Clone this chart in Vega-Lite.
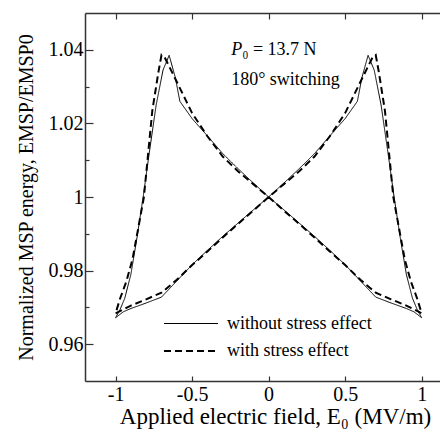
{
  "$schema": "https://vega.github.io/schema/vega-lite/v6.json",
  "width": 355,
  "height": 368,
  "autosize": {"type": "none"},
  "padding": {"left": 85, "top": 13, "right": 0, "bottom": 53},
  "background": "white",
  "config": {
    "font": "Liberation Serif",
    "view": {"stroke": null},
    "axis": {
      "domainColor": "#333", "domainWidth": 1.5, "tickColor": "#333", "tickWidth": 1.2,
      "labelFont": "Liberation Serif", "titleFont": "Liberation Serif",
      "labelColor": "black", "titleColor": "black", "titleFontWeight": "normal",
      "grid": false, "labelFontSize": 20, "titleFontSize": 20
    },
    "legend": {"labelFont": "Liberation Serif", "labelColor": "black"},
    "text": {"font": "Liberation Serif"}
  },
  "layer": [
    {
      "data": {"values": [
        {"series": "without stress effect", "o": 1, "x": -1.0, "y": 0.9672},
        {"series": "without stress effect", "o": 2, "x": -0.95, "y": 0.9688},
        {"series": "without stress effect", "o": 3, "x": -0.9, "y": 0.9697},
        {"series": "without stress effect", "o": 4, "x": -0.8, "y": 0.9712},
        {"series": "without stress effect", "o": 5, "x": -0.7, "y": 0.9728},
        {"series": "without stress effect", "o": 6, "x": -0.6, "y": 0.9772},
        {"series": "without stress effect", "o": 7, "x": -0.5, "y": 0.9816},
        {"series": "without stress effect", "o": 8, "x": -0.4, "y": 0.9855},
        {"series": "without stress effect", "o": 9, "x": -0.3, "y": 0.9893},
        {"series": "without stress effect", "o": 10, "x": -0.2, "y": 0.9929},
        {"series": "without stress effect", "o": 11, "x": -0.1, "y": 0.9965},
        {"series": "without stress effect", "o": 12, "x": 0.0, "y": 1.0},
        {"series": "without stress effect", "o": 13, "x": 0.1, "y": 1.0038},
        {"series": "without stress effect", "o": 14, "x": 0.2, "y": 1.0077},
        {"series": "without stress effect", "o": 15, "x": 0.3, "y": 1.0118},
        {"series": "without stress effect", "o": 16, "x": 0.4, "y": 1.0166},
        {"series": "without stress effect", "o": 17, "x": 0.5, "y": 1.0213},
        {"series": "without stress effect", "o": 18, "x": 0.58, "y": 1.026},
        {"series": "without stress effect", "o": 19, "x": 0.61, "y": 1.0325},
        {"series": "without stress effect", "o": 20, "x": 0.65, "y": 1.0385},
        {"series": "without stress effect", "o": 21, "x": 0.69, "y": 1.0345},
        {"series": "without stress effect", "o": 22, "x": 0.735, "y": 1.025},
        {"series": "without stress effect", "o": 23, "x": 0.78, "y": 1.012},
        {"series": "without stress effect", "o": 24, "x": 0.82, "y": 1.0},
        {"series": "without stress effect", "o": 25, "x": 0.86, "y": 0.989},
        {"series": "without stress effect", "o": 26, "x": 0.9, "y": 0.979},
        {"series": "without stress effect", "o": 27, "x": 0.94, "y": 0.9725},
        {"series": "without stress effect", "o": 28, "x": 0.97, "y": 0.9695},
        {"series": "without stress effect", "o": 29, "x": 1.0, "y": 0.9672},
        {"series": "without stress effect", "o": 30, "x": 0.95, "y": 0.9688},
        {"series": "without stress effect", "o": 31, "x": 0.9, "y": 0.9697},
        {"series": "without stress effect", "o": 32, "x": 0.8, "y": 0.9712},
        {"series": "without stress effect", "o": 33, "x": 0.7, "y": 0.9728},
        {"series": "without stress effect", "o": 34, "x": 0.6, "y": 0.9772},
        {"series": "without stress effect", "o": 35, "x": 0.5, "y": 0.9816},
        {"series": "without stress effect", "o": 36, "x": 0.4, "y": 0.9855},
        {"series": "without stress effect", "o": 37, "x": 0.3, "y": 0.9893},
        {"series": "without stress effect", "o": 38, "x": 0.2, "y": 0.9929},
        {"series": "without stress effect", "o": 39, "x": 0.1, "y": 0.9965},
        {"series": "without stress effect", "o": 40, "x": 0.0, "y": 1.0},
        {"series": "without stress effect", "o": 41, "x": -0.1, "y": 1.0038},
        {"series": "without stress effect", "o": 42, "x": -0.2, "y": 1.0077},
        {"series": "without stress effect", "o": 43, "x": -0.3, "y": 1.0118},
        {"series": "without stress effect", "o": 44, "x": -0.4, "y": 1.0166},
        {"series": "without stress effect", "o": 45, "x": -0.5, "y": 1.0213},
        {"series": "without stress effect", "o": 46, "x": -0.58, "y": 1.026},
        {"series": "without stress effect", "o": 47, "x": -0.61, "y": 1.0325},
        {"series": "without stress effect", "o": 48, "x": -0.65, "y": 1.0385},
        {"series": "without stress effect", "o": 49, "x": -0.69, "y": 1.0345},
        {"series": "without stress effect", "o": 50, "x": -0.735, "y": 1.025},
        {"series": "without stress effect", "o": 51, "x": -0.78, "y": 1.012},
        {"series": "without stress effect", "o": 52, "x": -0.82, "y": 1.0},
        {"series": "without stress effect", "o": 53, "x": -0.86, "y": 0.989},
        {"series": "without stress effect", "o": 54, "x": -0.9, "y": 0.979},
        {"series": "without stress effect", "o": 55, "x": -0.94, "y": 0.9725},
        {"series": "without stress effect", "o": 56, "x": -0.97, "y": 0.9695},
        {"series": "without stress effect", "o": 57, "x": -1.0, "y": 0.9672},
        {"series": "with stress effect", "o": 1, "x": -1.0, "y": 0.9684},
        {"series": "with stress effect", "o": 2, "x": -0.9, "y": 0.9705},
        {"series": "with stress effect", "o": 3, "x": -0.8, "y": 0.9722},
        {"series": "with stress effect", "o": 4, "x": -0.7, "y": 0.974},
        {"series": "with stress effect", "o": 5, "x": -0.6, "y": 0.9775},
        {"series": "with stress effect", "o": 6, "x": -0.5, "y": 0.9815},
        {"series": "with stress effect", "o": 7, "x": -0.4, "y": 0.9852},
        {"series": "with stress effect", "o": 8, "x": -0.3, "y": 0.989},
        {"series": "with stress effect", "o": 9, "x": -0.2, "y": 0.9927},
        {"series": "with stress effect", "o": 10, "x": -0.1, "y": 0.9963},
        {"series": "with stress effect", "o": 11, "x": 0.0, "y": 1.0},
        {"series": "with stress effect", "o": 12, "x": 0.1, "y": 1.0035},
        {"series": "with stress effect", "o": 13, "x": 0.2, "y": 1.007},
        {"series": "with stress effect", "o": 14, "x": 0.3, "y": 1.011},
        {"series": "with stress effect", "o": 15, "x": 0.4, "y": 1.0165},
        {"series": "with stress effect", "o": 16, "x": 0.5, "y": 1.0228},
        {"series": "with stress effect", "o": 17, "x": 0.54, "y": 1.0262},
        {"series": "with stress effect", "o": 18, "x": 0.625, "y": 1.0334},
        {"series": "with stress effect", "o": 19, "x": 0.68, "y": 1.038},
        {"series": "with stress effect", "o": 20, "x": 0.70, "y": 1.0386},
        {"series": "with stress effect", "o": 21, "x": 0.72, "y": 1.034},
        {"series": "with stress effect", "o": 22, "x": 0.76, "y": 1.0235},
        {"series": "with stress effect", "o": 23, "x": 0.815, "y": 1.0},
        {"series": "with stress effect", "o": 24, "x": 0.85, "y": 0.992},
        {"series": "with stress effect", "o": 25, "x": 0.89, "y": 0.983},
        {"series": "with stress effect", "o": 26, "x": 0.93, "y": 0.977},
        {"series": "with stress effect", "o": 27, "x": 0.97, "y": 0.9725},
        {"series": "with stress effect", "o": 28, "x": 1.0, "y": 0.9684},
        {"series": "with stress effect", "o": 29, "x": 0.9, "y": 0.9705},
        {"series": "with stress effect", "o": 30, "x": 0.8, "y": 0.9722},
        {"series": "with stress effect", "o": 31, "x": 0.7, "y": 0.974},
        {"series": "with stress effect", "o": 32, "x": 0.6, "y": 0.9775},
        {"series": "with stress effect", "o": 33, "x": 0.5, "y": 0.9815},
        {"series": "with stress effect", "o": 34, "x": 0.4, "y": 0.9852},
        {"series": "with stress effect", "o": 35, "x": 0.3, "y": 0.989},
        {"series": "with stress effect", "o": 36, "x": 0.2, "y": 0.9927},
        {"series": "with stress effect", "o": 37, "x": 0.1, "y": 0.9963},
        {"series": "with stress effect", "o": 38, "x": 0.0, "y": 1.0},
        {"series": "with stress effect", "o": 39, "x": -0.1, "y": 1.0035},
        {"series": "with stress effect", "o": 40, "x": -0.2, "y": 1.007},
        {"series": "with stress effect", "o": 41, "x": -0.3, "y": 1.011},
        {"series": "with stress effect", "o": 42, "x": -0.4, "y": 1.0165},
        {"series": "with stress effect", "o": 43, "x": -0.5, "y": 1.0228},
        {"series": "with stress effect", "o": 44, "x": -0.54, "y": 1.0262},
        {"series": "with stress effect", "o": 45, "x": -0.625, "y": 1.0334},
        {"series": "with stress effect", "o": 46, "x": -0.68, "y": 1.038},
        {"series": "with stress effect", "o": 47, "x": -0.70, "y": 1.0386},
        {"series": "with stress effect", "o": 48, "x": -0.72, "y": 1.034},
        {"series": "with stress effect", "o": 49, "x": -0.76, "y": 1.0235},
        {"series": "with stress effect", "o": 50, "x": -0.815, "y": 1.0},
        {"series": "with stress effect", "o": 51, "x": -0.85, "y": 0.992},
        {"series": "with stress effect", "o": 52, "x": -0.89, "y": 0.983},
        {"series": "with stress effect", "o": 53, "x": -0.93, "y": 0.977},
        {"series": "with stress effect", "o": 54, "x": -0.97, "y": 0.9725},
        {"series": "with stress effect", "o": 55, "x": -1.0, "y": 0.9684}
      ]},
      "mark": {"type": "line", "color": "black", "clip": true},
      "encoding": {
        "x": {"field": "x", "type": "quantitative",
          "scale": {"domain": [-1.2, 1.12], "nice": false, "zero": false},
          "axis": {"orient": "bottom", "values": [-1, -0.5, 0, 0.5, 1], "tickSize": -5, "labelPadding": 8,
            "labelFont": "Liberation Serif", "titleFont": "Liberation Serif", "titleFontSize": 23, "titleX": 190,
            "labelExpr": "toString(datum.value)", "title": "Applied electric field,  E₀ (MV/m)", "titlePadding": 1}},
        "y": {"field": "y", "type": "quantitative",
          "scale": {"domain": [0.95, 1.05], "nice": false, "zero": false},
          "axis": {"values": [0.96, 0.97, 0.98, 0.99, 1, 1.01, 1.02, 1.03, 1.04],
            "labelFont": "Liberation Serif", "titleFont": "Liberation Serif",
            "tickSize": {"condition": {"test": "indexof(['0.96','0.98','1','1.02','1.04'], toString(datum.value)) >= 0", "value": -8}, "value": -4},
            "labelExpr": "indexof(['0.96','0.98','1','1.02','1.04'], toString(datum.value)) >= 0 ? toString(datum.value) : ''",
            "labelPadding": 10, "title": "Normalized MSP energy, EMSP/EMSP0", "titlePadding": 12}},
        "order": {"field": "o", "type": "quantitative"},
        "strokeDash": {"field": "series", "type": "nominal",
          "scale": {"domain": ["without stress effect", "with stress effect"], "range": [[1, 0], [7, 4]]},
          "legend": {"orient": "none", "legendX": 96, "legendY": 301, "title": null, "symbolType": "M-3,0H3",
            "symbolSize": 324, "symbolStrokeColor": "black", "symbolFillColor": "transparent", "labelFont": "Liberation Serif", "labelFontSize": 18, "labelOffset": 26, "rowPadding": 8}},
        "strokeWidth": {"field": "series", "type": "nominal",
          "scale": {"domain": ["without stress effect", "with stress effect"], "range": [1, 2]},
          "legend": {"orient": "none", "legendX": 96, "legendY": 301, "title": null, "symbolType": "M-3,0H3",
            "symbolSize": 324, "symbolStrokeColor": "black", "symbolFillColor": "transparent", "labelFont": "Liberation Serif", "labelFontSize": 18, "labelOffset": 26, "rowPadding": 8}}
      }
    },
    {
      "data": {"values": [{}]},
      "mark": {"type": "text", "text": "P", "fontStyle": "italic", "fontSize": 18, "align": "left", "baseline": "middle", "font": "Liberation Serif"},
      "encoding": {
        "x": {"datum": -0.245, "type": "quantitative",
          "scale": {"domain": [-1.2, 1.12], "nice": false, "zero": false},
          "axis": {"orient": "top", "values": [-1, -0.5, 0, 0.5, 1], "tickSize": -6, "labels": false, "title": null}},
        "y": {"datum": 1.0399, "type": "quantitative"}
      }
    },
    {
      "data": {"values": [{}]},
      "mark": {"type": "text", "text": "₀ = 13.7 N", "fontSize": 18, "align": "left", "baseline": "middle", "dx": 11, "font": "Liberation Serif"},
      "encoding": {
        "x": {"datum": -0.245, "type": "quantitative", "axis": null},
        "y": {"datum": 1.0399, "type": "quantitative"}
      }
    },
    {
      "data": {"values": [{}]},
      "mark": {"type": "text", "text": "180° switching", "fontSize": 18, "align": "left", "baseline": "middle", "font": "Liberation Serif"},
      "encoding": {
        "x": {"datum": -0.245, "type": "quantitative", "axis": null},
        "y": {"datum": 1.0317, "type": "quantitative"}
      }
    }
  ],
  "resolve": {"axis": {"x": "independent"}}
}
